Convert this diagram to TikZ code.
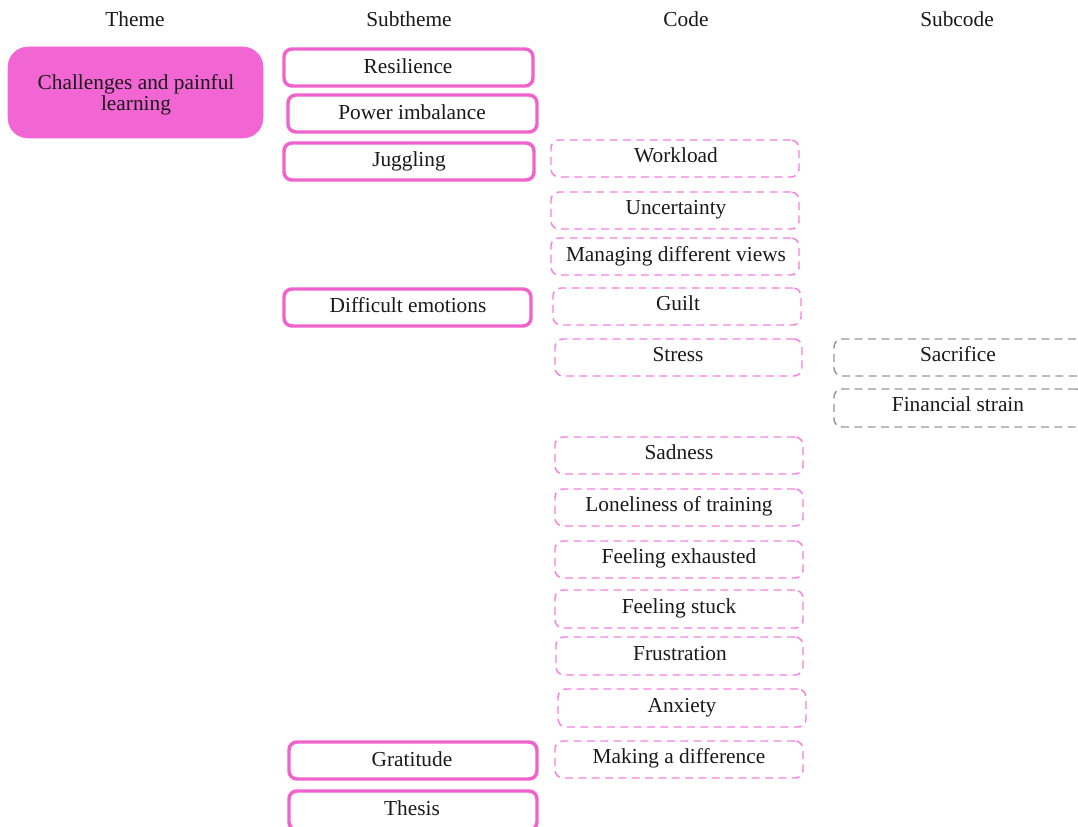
\documentclass[tikz,border=0pt]{standalone}
\usepackage{fontspec}
\setmainfont{Liberation Serif}
\usetikzlibrary{fit}
\definecolor{themefill}{RGB}{242,102,212}
\definecolor{subpink}{RGB}{240,98,204}
\definecolor{codepink}{RGB}{248,128,222}
\definecolor{subgray}{RGB}{150,150,150}
\definecolor{ink}{RGB}{25,25,25}
\tikzset{
  every node/.style={font=\fontsize{16}{15.8}\selectfont, text=ink},
  label/.style={inner sep=0pt, text height=11pt, text depth=3pt, yshift=-1.2pt},
  themebox/.style={fill=themefill, draw=themefill, rounded corners=15pt, inner sep=0pt},
  subbox/.style={draw=subpink, line width=2.6pt, rounded corners=6pt, inner sep=0pt},
  codebox/.style={draw=codepink, line width=1.1pt, dash pattern=on 6pt off 4pt, rounded corners=6pt, inner sep=0pt},
  subcodebox/.style={draw=subgray, line width=1.1pt, dash pattern=on 6pt off 4pt, rounded corners=6pt, inner sep=0pt},
}
\begin{document}
\begin{tikzpicture}[x=0.75pt,y=-0.75pt]
\useasboundingbox (0,0) rectangle (1078,827);
\clip (0,0) rectangle (1078,827);

% column headers
\node[label] (hTheme) at (135,20) {Theme};
\node[label] (hSub) at (409,20) {Subtheme};
\node[label] (hCode) at (686,20) {Code};
\node[label] (hSubcode) at (957,20) {Subcode};

% theme
\node[themebox, fit={(8,47) (263,138)}] (theme) {};
\node[align=center, inner sep=0pt] (themeText) at (136,95) {Challenges and painful\\learning};

% subthemes
\node[subbox, fit={(284,49) (533,86)}] (resilience) {};
\node[label] at (408,67) (resilienceT) {Resilience};
\node[subbox, fit={(288,95) (537,132)}] (power) {};
\node[label] at (412,113) (powerT) {Power imbalance};
\node[subbox, fit={(284,143) (534,180)}] (juggling) {};
\node[label] at (409,160) (jugglingT) {Juggling};
\node[subbox, fit={(284,289) (531,326)}] (difficult) {};
\node[label] at (408,306) (difficultT) {Difficult emotions};
\node[subbox, fit={(289,742) (537,779)}] (gratitude) {};
\node[label] at (412,760) (gratitudeT) {Gratitude};
\node[subbox, fit={(289,791) (537,830)}] (thesis) {};
\node[label] at (412,809) (thesisT) {Thesis};

% codes
\node[codebox, fit={(551,140) (799,177)}] (workload) {};
\node[label] at (676,156) (workloadT) {Workload};
\node[codebox, fit={(551,192) (799,229)}] (uncertainty) {};
\node[label] at (676,208) (uncertaintyT) {Uncertainty};
\node[codebox, fit={(551,238) (799,275)}] (managing) {};
\node[label] at (676,255) (managingT) {Managing different views};
\node[codebox, fit={(553,288) (801,325)}] (guilt) {};
\node[label] at (678,304) (guiltT) {Guilt};
\node[codebox, fit={(555,339) (802,376)}] (stress) {};
\node[label] at (678,355) (stressT) {Stress};
\node[codebox, fit={(555,437) (803,474)}] (sadness) {};
\node[label] at (679,453) (sadnessT) {Sadness};
\node[codebox, fit={(555,489) (803,526)}] (lonely) {};
\node[label] at (679,505) (lonelyT) {Loneliness of training};
\node[codebox, fit={(555,541) (803,578)}] (exhausted) {};
\node[label] at (679,557) (exhaustedT) {Feeling exhausted};
\node[codebox, fit={(555,590) (803,628)}] (stuck) {};
\node[label] at (679,607) (stuckT) {Feeling stuck};
\node[codebox, fit={(556,637) (803,675)}] (frustration) {};
\node[label] at (680,654) (frustrationT) {Frustration};
\node[codebox, fit={(558,689) (806,727)}] (anxiety) {};
\node[label] at (682,706) (anxietyT) {Anxiety};
\node[codebox, fit={(555,741) (803,778)}] (difference) {};
\node[label] at (679,757) (differenceT) {Making a difference};

% subcodes
\node[subcodebox, fit={(834,339) (1084,376)}] (sacrifice) {};
\node[label] at (958,355) (sacrificeT) {Sacrifice};
\node[subcodebox, fit={(834,389) (1084,427)}] (financial) {};
\node[label] at (958,405) (financialT) {Financial strain};
\end{tikzpicture}
\end{document}
